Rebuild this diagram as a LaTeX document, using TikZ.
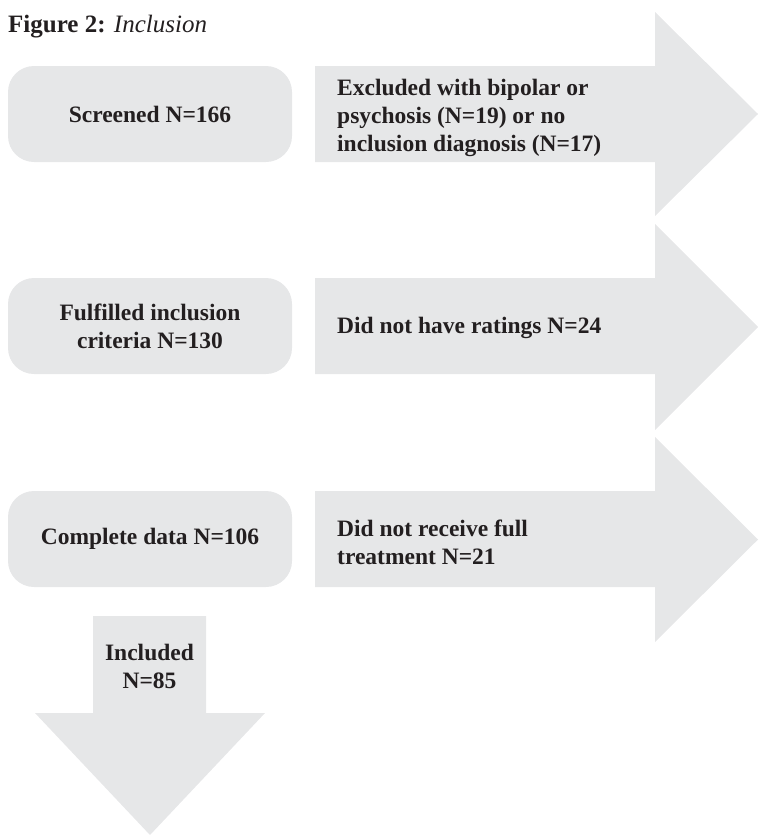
\documentclass[tikz,border=0pt]{standalone}
\usepackage{fontspec}
\setmainfont{Liberation Serif}
\definecolor{boxgray}{HTML}{E6E7E8}
\definecolor{ink}{HTML}{231F20}
\begin{document}
\begin{tikzpicture}[x=1pt,y=-1pt,
  stagebox/.style={fill=boxgray, rounded corners=26pt, minimum width=284pt, minimum height=96pt,
    font=\bfseries\fontsize{23.5}{28}\selectfont, text=ink, align=center, inner sep=0pt},
  arrowfill/.style={fill=boxgray},
  arrowtext/.style={font=\bfseries\fontsize{23.5}{28}\selectfont, text=ink, align=left, inner sep=0pt, anchor=west}
]
\useasboundingbox (0,0) rectangle (758,835);

% title
\node[anchor=base west, inner sep=0pt, text=ink, font=\fontsize{25}{28}\selectfont] (title) at (8,32)
  {\textbf{Figure 2:} \textit{Inclusion}};

% left stage boxes
\node[stagebox] (screened) at (150,114) {Screened N=166};
\node[stagebox] (fulfilled) at (150,326) {Fulfilled inclusion\\criteria N=130};
\node[stagebox] (complete) at (150,539) {Complete data N=106};

% exclusion arrows
\fill[arrowfill] (315,66) -- (655,66) -- (655,12) -- (758,114) -- (655,216) -- (655,162) -- (315,162) -- cycle;
\fill[arrowfill] (315,278) -- (655,278) -- (655,224) -- (758,327) -- (655,430) -- (655,374) -- (315,374) -- cycle;
\fill[arrowfill] (315,491) -- (655,491) -- (655,437) -- (758,539.5) -- (655,642) -- (655,587) -- (315,587) -- cycle;

\node[arrowtext] (excl1) at (337,118) {Excluded with bipolar or\\psychosis (N=19) or no\\inclusion diagnosis (N=17)};
\node[arrowtext] (excl2) at (337,328) {Did not have ratings N=24};
\node[arrowtext] (excl3) at (337,542) {Did not receive full\\treatment N=21};

% down arrow
\fill[arrowfill] (93,616) -- (206,616) -- (206,713) -- (265,713) -- (150,835) -- (35,713) -- (93,713) -- cycle;
\node[font=\bfseries\fontsize{23.5}{28}\selectfont, text=ink, align=center, inner sep=0pt] (included) at (149.5,666) {Included\\N=85};
\end{tikzpicture}
\end{document}
